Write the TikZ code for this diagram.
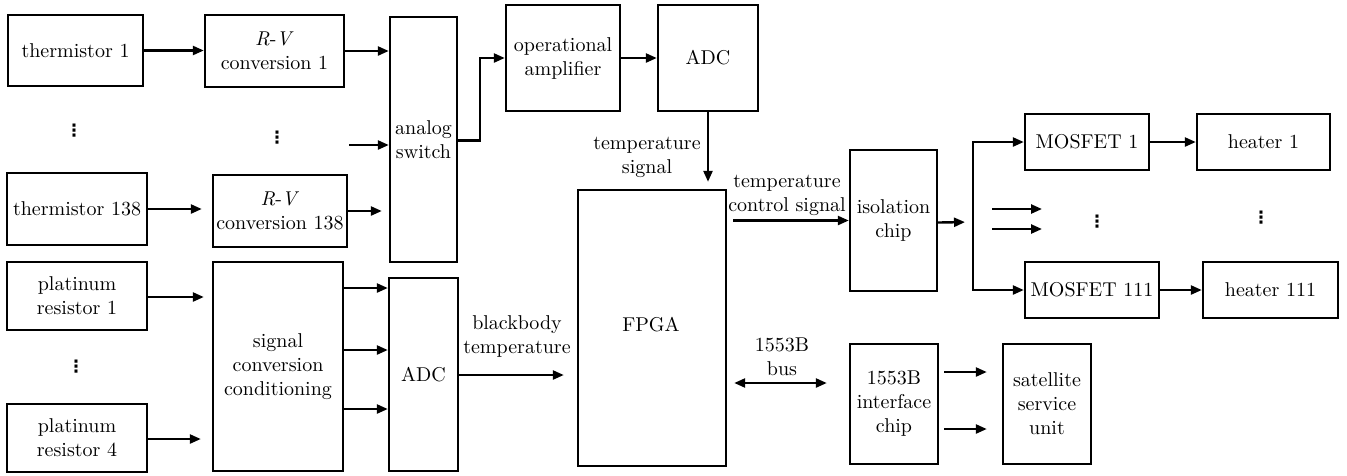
\documentclass[tikz,border=0pt]{standalone}
\usepackage{fontspec}
\setmainfont{lmroman10-regular}[Extension=.otf, ItalicFont=lmroman10-italic, BoldFont=lmroman10-bold]
\newfontfamily\dvfont{DejaVu Sans Bold}
\usetikzlibrary{arrows.meta}
\newcommand{\mydots}{{\dvfont\fontsize{17}{17}\selectfont ⋮}}
\begin{document}
\begin{tikzpicture}[x=1pt,y=-1pt,
  every node/.style={font=\fontsize{20}{24}\selectfont},
  box/.style={draw, line width=2.4pt, inner sep=0pt, align=center},
  lbl/.style={inner sep=0pt, align=center},
  arr/.style={line width=2.4pt, -{Triangle[length=11pt,width=9pt]}},
  biarr/.style={line width=2.4pt, {Triangle[length=11pt,width=9pt]}-{Triangle[length=11pt,width=9pt]}}]
\useasboundingbox (0,0) rectangle (1347,475);
% left column
\node[box, minimum width=135pt, minimum height=71pt] (th1) at (75.5,50.5) {thermistor 1};
\node[box, minimum width=140pt, minimum height=72pt] (th138) at (77,209) {thermistor 138};
\node[box, minimum width=140pt, minimum height=68pt] (pr1) at (77,296) {platinum\\resistor 1};
\node[box, minimum width=140pt, minimum height=68pt] (pr4) at (77,438) {platinum\\resistor 4};
\node[lbl] (d1) at (74,131) {\mydots};
\node[lbl] (d3) at (76,367) {\mydots};
% second column
\node[box, minimum width=139pt, minimum height=72pt] (rv1) at (274.5,51) {\textit{R}-\textit{V}\\conversion 1};
\node[box, minimum width=134pt, minimum height=72pt] (rv138) at (280,211) {\textit{R}-\textit{V}\\conversion 138};
\node[lbl] (d2) at (277,138) {\mydots};
\node[box, minimum width=130pt, minimum height=209pt] (sig) at (278,366.5) {signal\\conversion\\conditioning};
% third column
\node[box, minimum width=67pt, minimum height=245pt] (sw) at (423.5,139.5) {analog\\switch};
\node[box, minimum width=69pt, minimum height=193pt] (adc2) at (423.5,374.5) {ADC};
% top
\node[box, minimum width=114pt, minimum height=106pt] (op) at (563,58) {operational\\amplifier};
\node[box, minimum width=100pt, minimum height=106pt] (adc1) at (708,58) {ADC};
% FPGA
\node[box, minimum width=148pt, minimum height=276pt] (fpga) at (652,328) {};
\node[lbl] (fpgat) at (651,325) {FPGA};
% right
\node[box, minimum width=87pt, minimum height=141pt] (iso) at (893.5,220.5) {isolation\\chip};
\node[box, minimum width=124pt, minimum height=56pt] (mos1) at (1087,142) {MOSFET 1};
\node[box, minimum width=133pt, minimum height=56pt] (heat1) at (1263.5,142) {heater 1};
\node[box, minimum width=134pt, minimum height=56pt] (mos111) at (1092,290) {MOSFET 111};
\node[box, minimum width=135pt, minimum height=56pt] (heat111) at (1270.5,290) {heater 111};
\node[lbl] (d4) at (1097,222) {\mydots};
\node[lbl] (d5) at (1261,218) {\mydots};
\node[box, minimum width=88pt, minimum height=120pt] (ifc) at (894,404) {1553B\\interface\\chip};
\node[box, minimum width=88pt, minimum height=120pt] (sat) at (1047,404) {satellite\\service\\unit};
% labels
\node[lbl] (l1) at (647,157) {temperature\\signal};
\node[lbl] (l2) at (787,195) {temperature\\control signal};
\node[lbl] (l3) at (517,336) {blackbody\\temperature};
\node[lbl] (l4) at (782,357) {1553B\\bus};
% coordinates
\coordinate (swin) at (349,145);
\coordinate (split) at (973,220);
\coordinate (fa1) at (992,209);
\coordinate (fb1) at (1042,209);
\coordinate (fa2) at (992,229);
\coordinate (fb2) at (1042,229);
% connectors
\draw[arr] (th1.east) -- (th1.east -| rv1.west);
\draw[arr] (rv1.east) -- (rv1.east -| sw.west);
\draw[arr] (swin) -- (swin -| sw.west);
\draw[arr, shorten >=10pt] (th138.east) -- (th138.east -| rv138.west);
\draw[arr, shorten >=7pt] (rv138.east) -- (rv138.east -| sw.west);
\draw[arr] ([yshift=-1pt]sw.east) -- ++(22,0) |- (op.west);
\draw[arr] (op.east) -- (adc1.west);
\draw[arr, shorten >=7pt] (adc1.south) -- (adc1.south |- fpga.north);
\draw[arr, shorten <=6pt] (fpga.east |- iso.west) -- (iso.west);
\draw[arr, shorten >=8pt] ([yshift=-2pt]iso.east) -- ([yshift=-2pt]split);
\draw[arr] (split) |- (mos1.west);
\draw[arr] (split) |- (mos111.west);
\draw[arr] (fa1) -- (fb1);
\draw[arr] (fa2) -- (fb2);
\draw[arr] (mos1.east) -- (heat1.west);
\draw[arr] (mos111.east) -- (heat111.west);
\draw[arr, shorten >=8pt] ([yshift=-1pt]pr1.east) -- ([yshift=-1pt]pr1.east -| sig.west);
\draw[arr, shorten >=11pt] ([yshift=-1pt]pr4.east) -- ([yshift=-1pt]pr4.east -| sig.west);
\draw[arr] (sig.east |- 0,288) -- (adc2.west |- 0,288);
\draw[arr] (sig.east |- 0,350) -- (adc2.west |- 0,350);
\draw[arr] (sig.east |- 0,409) -- (adc2.west |- 0,409);
\draw[arr, shorten >=13pt] (adc2.east |- 0,375) -- (fpga.west |- 0,375);
\draw[biarr, shorten <=7pt, shorten >=22pt] (fpga.east |- 0,383) -- (ifc.west |- 0,383);
\draw[arr, shorten <=5pt, shorten >=15pt] (ifc.east |- 0,372) -- (sat.west |- 0,372);
\draw[arr, shorten <=5pt, shorten >=15pt] (ifc.east |- 0,429) -- (sat.west |- 0,429);
\end{tikzpicture}
\end{document}
